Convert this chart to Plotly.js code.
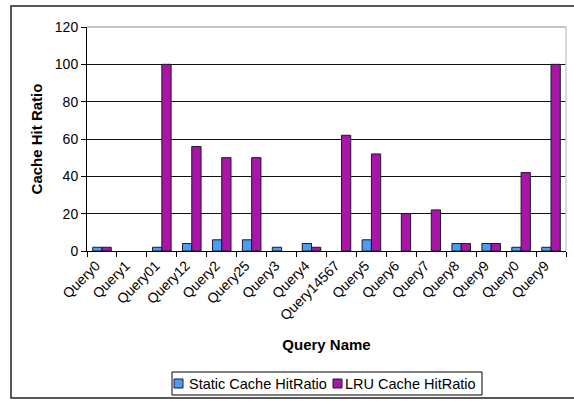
<!DOCTYPE html>
<html>
<head>
<meta charset="utf-8">
<script src="https://cdn.plot.ly/plotly-3.0.1.min.js"></script>
<style>
  html, body { margin: 0; padding: 0; background: #fff; }
  #chart { width: 574px; height: 401px; }
</style>
</head>
<body>
<div id="chart"></div>
<script>
// Query names in run order (some queries were run twice)
const queries = ["Query0", "Query1", "Query01", "Query12", "Query2", "Query25", "Query3", "Query4",
                 "Query14567", "Query5", "Query6", "Query7", "Query8", "Query9", "Query0", "Query9"];
// Hit ratios (%) per query
const staticHit = [2, 0, 2, 4, 6, 6, 2, 4, 0, 6, 0, 0, 4, 4, 2, 2];
const lruHit    = [2, 0, 100, 56, 50, 50, 0, 2, 62, 52, 20, 22, 4, 4, 42, 100];
const seriesNames = ["Static Cache HitRatio", "LRU Cache HitRatio"];
const yTicks = [0, 20, 40, 60, 80, 100, 120];

const W = 574, H = 401;
const M = { l: 87, r: 8, t: 27, b: 150 };
const plotW = W - M.l - M.r, plotH = H - M.t - M.b;
// pixel position -> paper fraction, for the frame and the key below the plot
const px = x => (x - M.l) / plotW;
const py = y => (H - M.b - y) / plotH;

const font = "Liberation Sans, Arial, sans-serif";
const colors = ["#4a9df2", "#a915a9"];
const edge = "#1a1a2a";

const pos = queries.map((q, i) => i);
const bounds = queries.map((q, i) => i - 0.5).concat([queries.length - 0.5]);
// no outline on empty bars
const outline = vals => vals.map(v => (v > 0 ? 1 : 0));

const traces = [staticHit, lruHit].map((vals, k) => ({
  type: "bar", name: seriesNames[k], x: pos, y: vals, showlegend: false,
  marker: { color: colors[k], line: { color: edge, width: outline(vals) } }
}));

// key: bordered box with a swatch + label per series
const keyShapes = [
  { type: "rect", xref: "paper", yref: "paper", x0: px(172), x1: px(482), y0: py(395), y1: py(372),
    line: { color: "#000", width: 1 }, fillcolor: "#fff" },
  { type: "rect", xref: "paper", yref: "paper", x0: px(174), x1: px(183), y0: py(388), y1: py(379),
    line: { color: edge, width: 1 }, fillcolor: colors[0] },
  { type: "rect", xref: "paper", yref: "paper", x0: px(333), x1: px(342), y0: py(388), y1: py(379),
    line: { color: edge, width: 1 }, fillcolor: colors[1] }
];
const keyLabels = [187, 343].map((x, k) => ({
  xref: "paper", yref: "paper", x: px(x), y: py(384), xanchor: "left", yanchor: "middle",
  text: seriesNames[k], showarrow: false, font: { family: font, size: 14.5, color: "#000" }
}));

const layout = {
  width: W, height: H,
  margin: M,
  paper_bgcolor: "#fff", plot_bgcolor: "#fff",
  font: { family: font, size: 14, color: "#000" },
  barmode: "group", bargap: 0.38, bargroupgap: 0,
  showlegend: false,
  xaxis: {
    range: [-0.5, queries.length - 0.5], automargin: false,
    tickmode: "array", tickvals: pos, ticktext: queries,
    tickangle: -45, ticks: "", ticklen: 0, ticklabelshift: -6,
    tickfont: { family: font, size: 14 },
    showline: true, linecolor: "#000", linewidth: 1, showgrid: false, zeroline: false,
    minor: { tickmode: "array", tickvals: bounds, ticks: "outside", ticklen: 5, tickcolor: "#000", tickwidth: 1, showgrid: false },
    title: { text: "Query Name", font: { family: font, size: 15, weight: "bold" }, standoff: 17 }
  },
  yaxis: {
    range: [0, 120], automargin: false, tickmode: "array", tickvals: yTicks,
    ticks: "outside", ticklen: 5, tickcolor: "#000",
    tickfont: { family: font, size: 14 },
    showline: true, linecolor: "#000", linewidth: 1,
    showgrid: true, gridcolor: "#111", gridwidth: 1, zeroline: false,
    title: { text: "Cache Hit Ratio", font: { family: font, size: 15, weight: "bold" }, standoff: 8 }
  },
  shapes: [
    // outer chart frame
    { type: "rect", xref: "paper", yref: "paper", x0: px(11), x1: px(590), y0: py(398), y1: py(6),
      line: { color: "#222", width: 1.5 }, layer: "below" },
    // plot-area border, top and right
    { type: "line", xref: "paper", yref: "paper", x0: 0, x1: 1, y0: 1, y1: 1,
      line: { color: "#8a8a8a", width: 1 } },
    { type: "line", xref: "paper", yref: "paper", x0: 1, x1: 1, y0: 0, y1: 1,
      line: { color: "#c4ccd0", width: 1.5 } }
  ].concat(keyShapes),
  annotations: keyLabels
};

Plotly.newPlot("chart", traces, layout, { displayModeBar: false, staticPlot: true });
</script>
</body>
</html>
